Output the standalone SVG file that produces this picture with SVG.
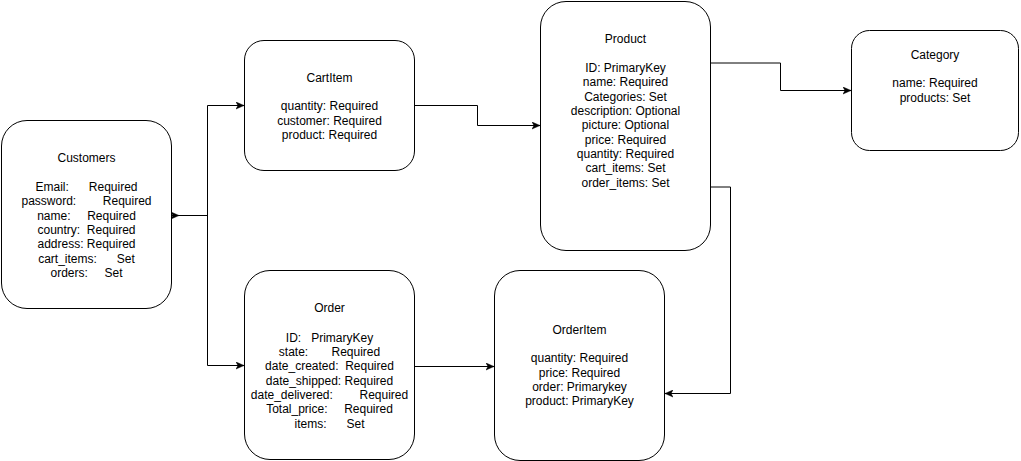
<svg xmlns="http://www.w3.org/2000/svg" width="1021" height="461" viewBox="0 0 1021 461">
<style>
.box{fill:#fff;stroke:#000;stroke-width:1}
.t{font-family:"Liberation Sans",Arial,Helvetica,sans-serif;font-size:12px;fill:#000;text-anchor:middle;white-space:pre}
.edge{fill:none;stroke:#000;stroke-width:1}
</style>
<defs>
<marker id="arr" viewBox="0 0 8 8" refX="8" refY="4" markerWidth="8" markerHeight="8" markerUnits="userSpaceOnUse" orient="auto">
<path d="M0,0.5 L8,4 L0,7.5 L2,4 z" fill="#000" stroke="#000" stroke-width="0.5"/>
</marker>
</defs>
<rect x="0" y="0" width="1021" height="461" fill="#fff"/>

<g id="connectors">
<path class="edge" d="M179,215.5 H207.5 M207.5,105.5 V365.5" />
<path class="edge" d="M171.5,215.5 H179" marker-end="url(#arr)"/>
<path class="edge" d="M207.5,105.5 H244" marker-end="url(#arr)"/>
<path class="edge" d="M207.5,365.5 H244" marker-end="url(#arr)"/>
<path class="edge" d="M414.5,105.5 H477.5 V125.5 H540" marker-end="url(#arr)"/>
<path class="edge" d="M710.5,63 H780.5 V90.5 H851" marker-end="url(#arr)"/>
<path class="edge" d="M710.5,187 H730.5 V393.5 H665" marker-end="url(#arr)"/>
<path class="edge" d="M414.5,366.5 H494" marker-end="url(#arr)"/>
</g>

<g id="customers">
<rect class="box" x="1.5" y="120.5" width="170" height="188" rx="25.5" ry="25.5"/>
<text class="t" x="86.5" y="162">Customers</text>
<text class="t" x="86.5" y="191">Email:      Required</text>
<text class="t" x="86.5" y="205">password:        Required</text>
<text class="t" x="86.5" y="219.5">name:     Required</text>
<text class="t" x="86.5" y="234">country:  Required</text>
<text class="t" x="86.5" y="248">address: Required</text>
<text class="t" x="86.5" y="262.5">cart_items:      Set</text>
<text class="t" x="86.5" y="277">orders:     Set</text>
</g>

<g id="cartitem">
<rect class="box" x="244.5" y="40.5" width="170" height="130" rx="19.5" ry="19.5"/>
<text class="t" x="329.5" y="81.5">CartItem</text>
<text class="t" x="329.5" y="110">quantity: Required</text>
<text class="t" x="329.5" y="124.5">customer: Required</text>
<text class="t" x="329.5" y="139">product: Required</text>
</g>

<g id="order">
<rect class="box" x="244.5" y="270.5" width="170" height="189" rx="25.5" ry="25.5"/>
<text class="t" x="329.5" y="312">Order</text>
<text class="t" x="329.5" y="341.5">ID:   PrimaryKey</text>
<text class="t" x="329.5" y="355.5">state:       Required</text>
<text class="t" x="329.5" y="370">date_created:  Required</text>
<text class="t" x="329.5" y="384.5">date_shipped: Required</text>
<text class="t" x="329.5" y="398.5">date_delivered:        Required</text>
<text class="t" x="329.5" y="413">Total_price:     Required</text>
<text class="t" x="329.5" y="427.5">items:      Set</text>
</g>

<g id="product">
<rect class="box" x="540.5" y="1.5" width="170" height="249" rx="25.5" ry="25.5"/>
<text class="t" x="625.5" y="42.5">Product</text>
<text class="t" x="625.5" y="72">ID: PrimaryKey</text>
<text class="t" x="625.5" y="86">name: Required</text>
<text class="t" x="625.5" y="100.5">Categories: Set</text>
<text class="t" x="625.5" y="115">description: Optional</text>
<text class="t" x="625.5" y="129">picture: Optional</text>
<text class="t" x="625.5" y="143.5">price: Required</text>
<text class="t" x="625.5" y="158">quantity: Required</text>
<text class="t" x="625.5" y="172">cart_items: Set</text>
<text class="t" x="625.5" y="186.5">order_items: Set</text>
</g>

<g id="category">
<rect class="box" x="851.5" y="30.5" width="167" height="120" rx="18" ry="18"/>
<text class="t" x="935" y="58.5">Category</text>
<text class="t" x="935" y="87">name: Required</text>
<text class="t" x="935" y="101.5">products: Set</text>
</g>

<g id="orderitem">
<rect class="box" x="494.5" y="270.5" width="170" height="190" rx="25.5" ry="25.5"/>
<text class="t" x="579.5" y="334">OrderItem</text>
<text class="t" x="579.5" y="362">quantity: Required</text>
<text class="t" x="579.5" y="376.5">price: Required</text>
<text class="t" x="579.5" y="391">order: Primarykey</text>
<text class="t" x="579.5" y="405">product: PrimaryKey</text>
</g>
</svg>
